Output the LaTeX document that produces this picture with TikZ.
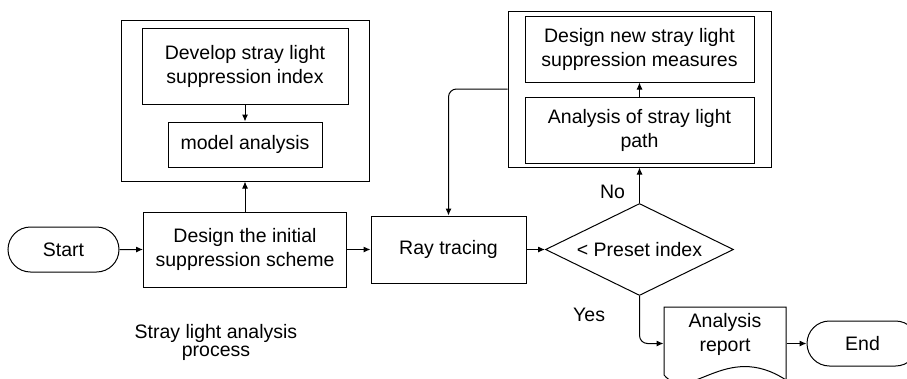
\documentclass[tikz,border=0pt]{standalone}
\usepackage{fontspec}
\setmainfont{Liberation Sans}
\usetikzlibrary{arrows.meta,positioning,shapes.geometric,shapes.misc}

\begin{document}
\begin{tikzpicture}[x=1pt, y=-1pt, line width=1pt,
    font=\fontsize{19.5}{24}\selectfont,
    box/.style={draw, align=center, inner sep=0pt},
    term/.style={draw, rounded rectangle, inner sep=0pt, minimum width=111pt, minimum height=45pt},
    decision/.style={draw, diamond, inner sep=0pt, aspect=2, minimum width=188pt, minimum height=92pt},
    lbl/.style={inner sep=0pt},
    flow/.style={-{Latex[length=7pt, width=6pt]}}]
  \useasboundingbox (0,0) rectangle (907,378);

  \node[term] (start) at (63.5,249.5) {Start};
  \node[box, minimum width=203pt, minimum height=75pt] (init) at (245,249.5) {Design the initial\\suppression scheme};
  \node[box, minimum width=155pt, minimum height=67pt] (ray) at (448.5,249.5) {Ray tracing};
  \node[decision] (check) at (639.5,249.5) {< Preset index};

  \node[box, minimum width=206pt, minimum height=76pt] (index) at (245,66) {Develop stray light\\suppression index};
  \node[box, minimum width=154pt, minimum height=45pt] (model) at (245,144.5) {model analysis};
  \node[box, minimum width=248pt, minimum height=161pt] (lgroup) at (245,100.5) {};

  \node[box, minimum width=229pt, minimum height=66pt] (measures) at (639.5,49) {Design new stray light\\suppression measures};
  \node[box, minimum width=229pt, minimum height=66pt] (strpath) at (639.5,130) {Analysis of stray light\\path};
  \node[box, minimum width=263pt, minimum height=156pt] (rgroup) at (639.5,89) {};

  \node[inner sep=0pt, minimum width=122pt, minimum height=72pt] (docbox) at (725,343.5) {};
  \node[align=center, inner sep=0pt] (report) at (725,334) {Analysis\\report};
  \draw (664,375) -- (664,307) -- (786,307) -- (786,380) .. controls (725,340) and (690,405) .. (664,375) -- cycle;
  \node[term] (end) at (862.5,343.5) {End};

  \node[align=center, inner sep=0pt, font=\fontsize{19.5}{18.5}\selectfont] (title) at (216,342.5) {Stray light analysis\\process};

  \path[flow]
    (start) edge (init)
    (init) edge (ray)
           edge (lgroup)
    (ray) edge (check)
    (index) edge (model)
    (strpath) edge (measures)
    (check) edge node[lbl, pos=0.32, left=14pt] {No} (rgroup)
    (docbox) edge (end);
  \draw[flow, rounded corners=8pt] (rgroup.west) -| (ray.north);
  \draw[flow, rounded corners=8pt] (check.south) |- (docbox.west)
    node[lbl, pos=0.2, left=34pt] {Yes};
\end{tikzpicture}
\end{document}
